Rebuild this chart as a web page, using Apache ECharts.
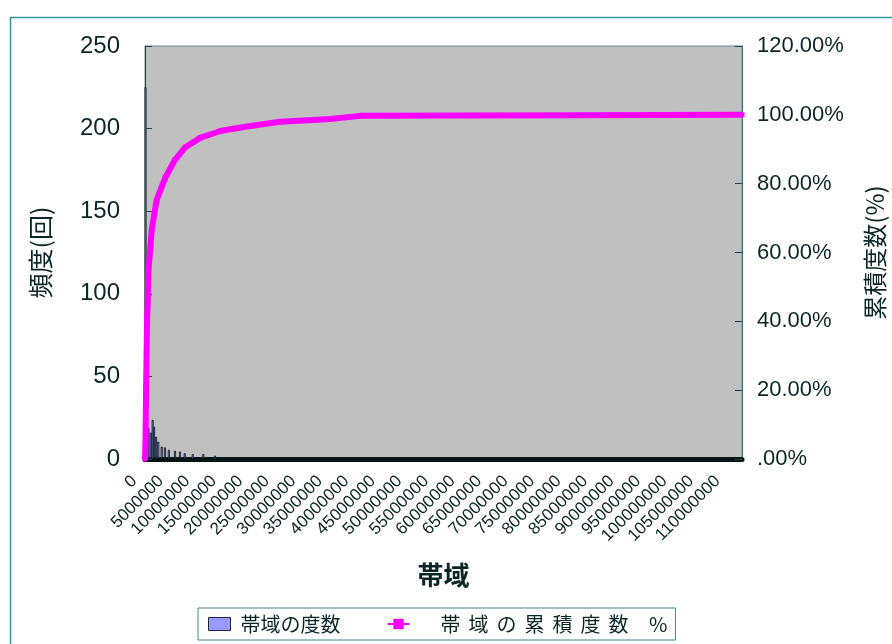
<!DOCTYPE html>
<html>
<head>
<meta charset="utf-8">
<title>帯域の度数</title>
<script src="https://cdn.jsdelivr.net/npm/echarts@6/dist/echarts.min.js"></script>
<style>
  html, body { margin: 0; padding: 0; background: #fff; }
  #main { width: 892px; height: 644px; }
</style>
</head>
<body>
<div id="main"></div>
<script>
// 帯域ごとの頻度 (棒)
const freqBand = [100000, 200000, 300000, 400000, 500000, 620000, 1080000, 1450000, 1700000, 2080000,
  2500000, 3150000, 3770000, 4500000, 5660000, 6600000, 7500000, 9000000, 11000000, 13200000];
const freqCount = [225, 12, 14, 10, 12, 19, 16, 23.6, 19.5, 13.5,
  10.5, 7.5, 7, 5.5, 5, 4.5, 3.5, 3, 3, 2];

// 累積度数 % (折れ線)
const cumBand = [0, 100000, 200000, 300000, 400000, 500000, 620000, 1260000, 2200000, 3800000,
  5600000, 7600000, 10400000, 14200000, 19200000, 25500000, 31700000, 34900000, 40600000, 82000000, 112600000];
const cumPercent = [0, 6, 20.5, 31, 41, 44.7, 54, 66.5, 75.3, 81.7,
  86.8, 90.6, 93.3, 95.3, 96.6, 98, 98.5, 98.8, 99.7, 99.85, 100];

const bandMax = 112600000;
const bandStep = 5000000;
const freqMax = 250;
const freqStep = 50;
const pctMax = 120;
const pctStep = 20;

const freqName = '帯域の度数';
const cumName = '帯域の累積度数 %';

const numFont = 'Liberation Sans, Arial, sans-serif';
const jpFont = 'Noto Sans CJK JP, sans-serif';
const inkColor = '#0a2626';

const chart = echarts.init(document.getElementById('main'));

const option = {
  backgroundColor: '#fff',
  animation: false,
  graphic: [{
    type: 'rect',
    left: 8,
    top: 15,
    z: -10,
    shape: { width: 900, height: 700 },
    style: { fill: 'none', stroke: '#3a9595', lineWidth: 1.5 }
  }],
  grid: {
    left: 145, right: 150, top: 46, bottom: 185,
    outerBoundsMode: 'none',
    containLabel: false,
    show: true,
    backgroundColor: '#c0c0c0',
    borderColor: '#6a8f8f',
    borderWidth: 1
  },
  legend: {
    left: 198,
    top: 608,
    padding: [6, 8, 6, 10],
    borderColor: '#3a8a8a',
    borderWidth: 1,
    itemGap: 46,
    itemWidth: 22,
    itemHeight: 13,
    textStyle: {
      fontSize: 20, fontFamily: jpFont, color: inkColor,
      rich: {
        a: { fontSize: 20, fontFamily: jpFont, color: inkColor, padding: [0, 0, 0, 5] },
        f: { fontSize: 20, fontFamily: jpFont, color: inkColor, padding: [0, 4, 0, 26] },
        s: { fontSize: 20, fontFamily: jpFont, color: inkColor, padding: [0, 4, 0, 4] }
      }
    },
    // 累積度数の凡例は字間が広い
    formatter: function (name) {
      if (name === cumName) {
        return name.split('').map(function (c, i) {
          return '{' + (i === 0 ? 'f' : 's') + '|' + c + '}';
        }).join('');
      }
      return '{a|' + name + '}';
    },
    data: [
      { name: freqName, icon: 'rect', itemStyle: { color: '#9999ff', borderColor: '#1b2b3b', borderWidth: 1 } },
      { name: cumName, lineStyle: { width: 2 } }
    ]
  },
  xAxis: {
    type: 'value',
    min: 0,
    max: bandMax,
    interval: bandStep,
    name: '帯域',
    nameLocation: 'middle',
    nameGap: 103,
    nameTextStyle: { fontSize: 26, fontWeight: 'bold', fontFamily: jpFont, color: inkColor },
    axisLine: { show: true, lineStyle: { color: '#061414', width: 5 } },
    axisTick: { show: false },
    splitLine: { show: false },
    axisLabel: {
      rotate: 45,
      fontSize: 17,
      fontFamily: numFont,
      color: inkColor,
      margin: 9,
      padding: [0, 15, 0, 0],
      showMaxLabel: false,
      formatter: function (v) { return String(v); }
    }
  },
  yAxis: [{
    type: 'value',
    min: 0,
    max: freqMax,
    interval: freqStep,
    name: '頻度(回)',
    nameLocation: 'middle',
    nameRotate: 90,
    nameGap: 92,
    nameTextStyle: { fontSize: 25, fontFamily: jpFont, color: inkColor },
    axisLine: { show: true, lineStyle: { color: '#1a4a4a', width: 1 } },
    axisTick: { show: true, inside: true, length: 7, lineStyle: { color: '#1a4a4a' } },
    splitLine: { show: false },
    axisLabel: { fontSize: 24, fontFamily: numFont, color: inkColor, margin: 25 }
  }, {
    type: 'value',
    min: 0,
    max: pctMax,
    interval: pctStep,
    position: 'right',
    name: '累積度数(%)',
    nameLocation: 'middle',
    nameRotate: 90,
    nameGap: 121,
    nameTextStyle: { fontSize: 24, fontFamily: jpFont, color: inkColor },
    axisLine: { show: true, lineStyle: { color: '#3a7a7a', width: 1 } },
    axisTick: { show: true, inside: true, length: 7, lineStyle: { color: '#1a4a4a' } },
    splitLine: { show: false },
    axisLabel: {
      fontSize: 22, fontFamily: numFont, color: inkColor, margin: 15,
      formatter: function (v) { return v === 0 ? '.00%' : v.toFixed(2) + '%'; }
    }
  }],
  series: [{
    name: freqName,
    type: 'bar',
    yAxisIndex: 0,
    barWidth: 2,
    itemStyle: { color: '#9999ff', borderColor: '#001010', borderWidth: 0.8 },
    data: freqBand.map(function (b, i) { return [b, freqCount[i]]; })
  }, {
    name: cumName,
    type: 'line',
    yAxisIndex: 1,
    symbol: 'rect',
    symbolSize: 5,
    lineStyle: { color: '#ff00ff', width: 6 },
    itemStyle: { color: '#ff00ff' },
    data: cumBand.map(function (b, i) { return [b, cumPercent[i]]; })
  }]
};

chart.setOption(option);
</script>
</body>
</html>
